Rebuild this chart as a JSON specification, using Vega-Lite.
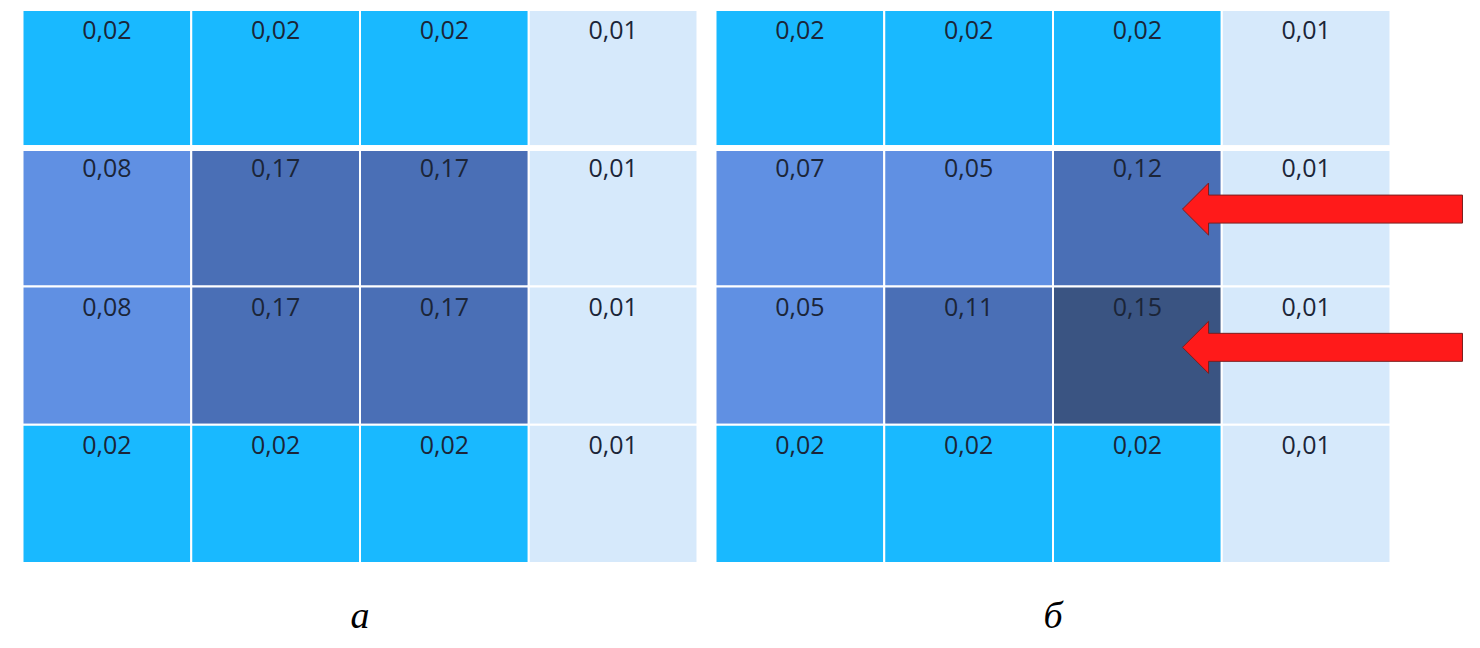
{
  "$schema": "https://vega.github.io/schema/vega-lite/v6.json",
  "padding": {"left": 19.5, "top": 9, "right": 0, "bottom": 0},
  "background": "white",
  "config": {"view": {"stroke": null}},
  "spacing": 12,
  "resolve": {"scale": {"color": "independent"}},
  "datasets": {
    "a": [
      {"row": 1, "col": 1, "v": 0.02}, {"row": 1, "col": 2, "v": 0.02}, {"row": 1, "col": 3, "v": 0.02}, {"row": 1, "col": 4, "v": 0.01},
      {"row": 2, "col": 1, "v": 0.08}, {"row": 2, "col": 2, "v": 0.17}, {"row": 2, "col": 3, "v": 0.17}, {"row": 2, "col": 4, "v": 0.01},
      {"row": 3, "col": 1, "v": 0.08}, {"row": 3, "col": 2, "v": 0.17}, {"row": 3, "col": 3, "v": 0.17}, {"row": 3, "col": 4, "v": 0.01},
      {"row": 4, "col": 1, "v": 0.02}, {"row": 4, "col": 2, "v": 0.02}, {"row": 4, "col": 3, "v": 0.02}, {"row": 4, "col": 4, "v": 0.01}
    ],
    "b": [
      {"row": 1, "col": 1, "v": 0.02}, {"row": 1, "col": 2, "v": 0.02}, {"row": 1, "col": 3, "v": 0.02}, {"row": 1, "col": 4, "v": 0.01},
      {"row": 2, "col": 1, "v": 0.07}, {"row": 2, "col": 2, "v": 0.05}, {"row": 2, "col": 3, "v": 0.12}, {"row": 2, "col": 4, "v": 0.01},
      {"row": 3, "col": 1, "v": 0.05}, {"row": 3, "col": 2, "v": 0.11}, {"row": 3, "col": 3, "v": 0.15}, {"row": 3, "col": 4, "v": 0.01},
      {"row": 4, "col": 1, "v": 0.02}, {"row": 4, "col": 2, "v": 0.02}, {"row": 4, "col": 3, "v": 0.02}, {"row": 4, "col": 4, "v": 0.01}
    ],
    "arrows": [
      {"row": 2, "col": 4},
      {"row": 3, "col": 4}
    ]
  },
  "hconcat": [
    {
      "width": 675,
      "height": 553,
      "title": {"text": "а", "orient": "bottom", "anchor": "middle", "font": "Liberation Serif", "fontStyle": "italic", "fontWeight": "normal", "fontSize": 38, "color": "#000000", "baseline": "top", "offset": 34},
      "layer": [
        {
          "data": {"name": "a"},
          "mark": {"type": "rect", "stroke": "white", "strokeWidth": 2},
          "encoding": {
            "x": {"field": "col", "type": "ordinal", "axis": null, "scale": {"paddingInner": 0, "paddingOuter": 0, "domain": [1, 2, 3, 4]}},
            "y": {"field": "row", "type": "ordinal", "axis": null, "scale": {"paddingInner": 0, "paddingOuter": 0, "domain": [1, 2, 3, 4]}},
            "color": {"field": "v", "type": "ordinal", "legend": null,
              "scale": {"domain": [0.01, 0.02, 0.08, 0.17], "range": ["#D6E9FB", "#19B9FF", "#6090E3", "#4A6FB6"]}}
          }
        },
        {
          "data": {"name": "a"},
          "mark": {"type": "rule", "color": "white", "strokeWidth": 5},
          "encoding": {
            "y": {"datum": 2, "type": "ordinal", "bandPosition": 0}
          }
        },
        {
          "data": {"name": "a"},
          "transform": [{"calculate": "replace(format(datum.v, '.2f'), '.', ',')", "as": "label"}],
          "mark": {"type": "text", "font": "Open Sans", "fontSize": 25, "color": "#1B2538", "baseline": "alphabetic", "dy": 29},
          "encoding": {
            "x": {"field": "col", "type": "ordinal"},
            "y": {"field": "row", "type": "ordinal", "bandPosition": 0},
            "text": {"field": "label", "type": "nominal"}
          }
        }
      ]
    },
    {
      "width": 675,
      "height": 553,
      "title": {"text": "б", "orient": "bottom", "anchor": "middle", "font": "Liberation Serif", "fontStyle": "italic", "fontWeight": "normal", "fontSize": 38, "color": "#000000", "baseline": "top", "offset": 34},
      "layer": [
        {
          "data": {"name": "b"},
          "mark": {"type": "rect", "stroke": "white", "strokeWidth": 2},
          "encoding": {
            "x": {"field": "col", "type": "ordinal", "axis": null, "scale": {"paddingInner": 0, "paddingOuter": 0, "domain": [1, 2, 3, 4]}},
            "y": {"field": "row", "type": "ordinal", "axis": null, "scale": {"paddingInner": 0, "paddingOuter": 0, "domain": [1, 2, 3, 4]}},
            "color": {"field": "v", "type": "ordinal", "legend": null,
              "scale": {"domain": [0.01, 0.02, 0.05, 0.07, 0.11, 0.12, 0.15], "range": ["#D6E9FB", "#19B9FF", "#6090E3", "#6090E3", "#4A6FB6", "#4A6FB6", "#3A5482"]}}
          }
        },
        {
          "data": {"name": "b"},
          "mark": {"type": "rule", "color": "white", "strokeWidth": 5},
          "encoding": {
            "y": {"datum": 2, "type": "ordinal", "bandPosition": 0}
          }
        },
        {
          "data": {"name": "b"},
          "transform": [{"calculate": "replace(format(datum.v, '.2f'), '.', ',')", "as": "label"}],
          "mark": {"type": "text", "font": "Open Sans", "fontSize": 25, "color": "#1B2538", "baseline": "alphabetic", "dy": 29},
          "encoding": {
            "x": {"field": "col", "type": "ordinal"},
            "y": {"field": "row", "type": "ordinal", "bandPosition": 0},
            "text": {"field": "label", "type": "nominal"}
          }
        },
        {
          "data": {"name": "arrows"},
          "mark": {"type": "point", "shape": "M -1 0 L -0.814 -0.186 L -0.814 -0.1 L 1 -0.1 L 1 0.1 L -0.814 0.1 L -0.814 0.186 Z", "size": 78400, "filled": true, "fill": "#FF1A1A", "stroke": "#7A1F1F", "strokeWidth": 1, "opacity": 1},
          "encoding": {
            "x": {"field": "col", "type": "ordinal", "bandPosition": 0.597},
            "y": {"field": "row", "type": "ordinal", "bandPosition": 0.44}
          }
        }
      ]
    }
  ]
}
